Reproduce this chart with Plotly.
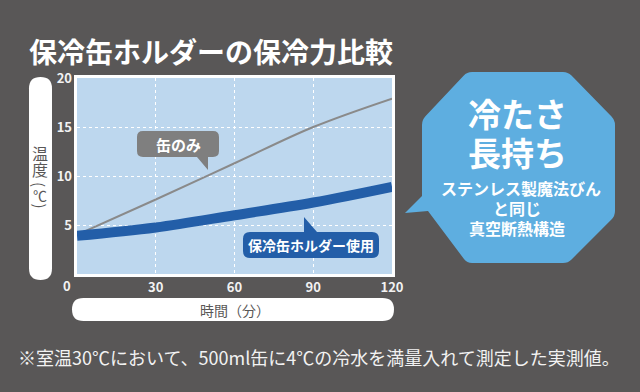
import plotly.graph_objects as go

# ---- data ----
time_min = [0, 30, 60, 90, 120]
can_only = [4.0, 7.6, 11.3, 15.0, 17.9]
with_holder = [3.9, 4.75, 6.0, 7.3, 8.9]
x_ticks = [30, 60, 90, 120]
y_ticks = [5, 10, 15, 20]

FONT = "Noto Sans CJK JP"
BG = "#595757"
PLOT_BG = "#bdd7ee"
BLUE = "#235ea8"
GRAY_LINE = "#8a8a8a"
GRAY_BOX = "#7f7f7f"
OCT = "#5eaee0"

# plot area in pixels
L, R, T, B = 77, 392, 78, 274
W, H = R - L, B - T


def pp(px, py):
    return (px - L) / W, (B - py) / H


def fmt(px, py):
    x, y = pp(px, py)
    return f"{x:.5f},{y:.5f}"


def rounded_poly(pts, radii):
    n = len(pts)
    path = ""
    first = True
    for i in range(n):
        p = pts[i]
        r = radii[i]
        prev = pts[i - 1]
        nxt = pts[(i + 1) % n]
        if r <= 0:
            path += ("M " if first else " L ") + fmt(*p)
        else:
            def toward(a, b, d):
                dx, dy = b[0] - a[0], b[1] - a[1]
                ln = (dx * dx + dy * dy) ** 0.5
                return (a[0] + dx / ln * d, a[1] + dy / ln * d)
            a = toward(p, prev, r)
            b = toward(p, nxt, r)
            path += ("M " if first else " L ") + fmt(*a)
            path += " Q " + fmt(*p) + " " + fmt(*b)
        first = False
    return path + " Z"


def rrect(x0, y0, x1, y1, r):
    pts = [(x0, y0), (x1, y0), (x1, y1), (x0, y1)]
    return rounded_poly(pts, [r] * 4)


fig = go.Figure()
fig.add_trace(go.Scatter(x=time_min, y=can_only, mode="lines",
                         line=dict(color=GRAY_LINE, width=2, shape="spline"),
                         name="缶のみ", hoverinfo="skip"))
fig.add_trace(go.Scatter(x=time_min, y=with_holder, mode="lines",
                         line=dict(color=BLUE, width=10, shape="spline"),
                         name="保冷缶ホルダー使用", hoverinfo="skip"))

shapes = []
# white frame around plot area
shapes.append(dict(type="rect", xref="paper", yref="paper",
                   x0=-1.5 / W, x1=1 + 1.5 / W, y0=-1.5 / H, y1=1 + 1.5 / H,
                   line=dict(color="white", width=3), layer="above"))
# y-axis title pill
shapes.append(dict(type="path", xref="paper", yref="paper",
                   path=rrect(29, 77, 52, 280, 11.5),
                   fillcolor="white", line=dict(width=0)))
# x-axis title pill
shapes.append(dict(type="path", xref="paper", yref="paper",
                   path=rrect(72, 298, 394, 321, 11.5),
                   fillcolor="white", line=dict(width=0)))
# gray callout
gpts = [(137, 131), (219, 131), (219, 157), (208, 157), (208, 170), (197, 157), (137, 157)]
shapes.append(dict(type="path", xref="paper", yref="paper",
                   path=rounded_poly(gpts, [6, 6, 6, 0, 0, 0, 6]),
                   fillcolor=GRAY_BOX, line=dict(width=0)))
# blue callout
bpts = [(243, 232), (304, 232), (304, 217), (317, 232), (379, 232), (379, 258), (243, 258)]
shapes.append(dict(type="path", xref="paper", yref="paper",
                   path=rounded_poly(bpts, [7, 0, 0, 0, 7, 7, 7]),
                   fillcolor=BLUE, line=dict(width=0)))
# octagon with tail
opts = [(467, 72), (568, 72), (615, 120), (615, 216), (568, 263), (467, 263),
        (428, 211), (405, 213), (422, 196), (422, 120)]
shapes.append(dict(type="path", xref="paper", yref="paper",
                   path=rounded_poly(opts, [5, 5, 5, 5, 5, 5, 0, 0, 0, 5]),
                   fillcolor=OCT, line=dict(width=0)))

annotations = []


def ann(text, px, py, size, color="white", weight="bold", xanchor="center", angle=0):
    x, y = pp(px, py)
    annotations.append(dict(text=text, x=x, y=y, xref="paper", yref="paper",
                            xanchor=xanchor, yanchor="middle", showarrow=False,
                            textangle=angle,
                            font=dict(family=FONT, size=size, color=color, weight=weight)))


ann("保冷缶ホルダーの保冷力比較", 27, 51, 28, xanchor="left")
ann("0", 67, 285, 13, color="#f2f2f2")
# y-axis title (vertical)
ann("温", 40, 152.5, 16, color=BG, weight="normal")
ann("度", 40, 168.5, 16, color=BG, weight="normal")
ann("(", 40, 184, 15, color=BG, weight="normal", angle=90)
ann("℃", 40, 194.5, 14, color=BG, weight="normal")
ann(")", 40, 205.5, 15, color=BG, weight="normal", angle=90)
ann("時間（分）", 235, 310, 14, color=BG, weight="normal")
ann("缶のみ", 178, 144, 15)
ann("保冷缶ホルダー使用", 311, 245, 14)
ann("冷たさ", 517, 113, 33)
ann("長持ち", 517, 152, 33)
ann("ステンレス製魔法びん", 521, 188, 16)
ann("と同じ", 517, 208, 16)
ann("真空断熱構造", 517, 228, 16)
ann("※室温30℃において、500ml缶に4℃の冷水を満量入れて測定した実測値。", 319, 357, 18,
    color="#f2f2f2", weight="normal")

fig.update_layout(
    width=640, height=392,
    margin=dict(l=L, r=640 - R, t=T, b=392 - B, pad=0),
    paper_bgcolor=BG, plot_bgcolor=PLOT_BG,
    showlegend=False,
    shapes=shapes, annotations=annotations,
    xaxis=dict(range=[0, 120], tickvals=x_ticks, showgrid=True, gridcolor="white",
               griddash="dot", gridwidth=1, zeroline=False, showline=False,
               ticks="", ticklabelstandoff=4,
               tickfont=dict(family=FONT, size=13, color="#f2f2f2", weight="bold"),
               fixedrange=True),
    yaxis=dict(range=[0, 20], tickvals=y_ticks, showgrid=True, gridcolor="white",
               griddash="dot", gridwidth=1, zeroline=False, showline=False,
               ticks="", ticklabelstandoff=4,
               tickfont=dict(family=FONT, size=13, color="#f2f2f2", weight="bold"),
               fixedrange=True),
)

fig.write_html("out.html", config={"displayModeBar": False},
               post_script="document.body.style.margin='0';document.body.style.background='#595757';")
